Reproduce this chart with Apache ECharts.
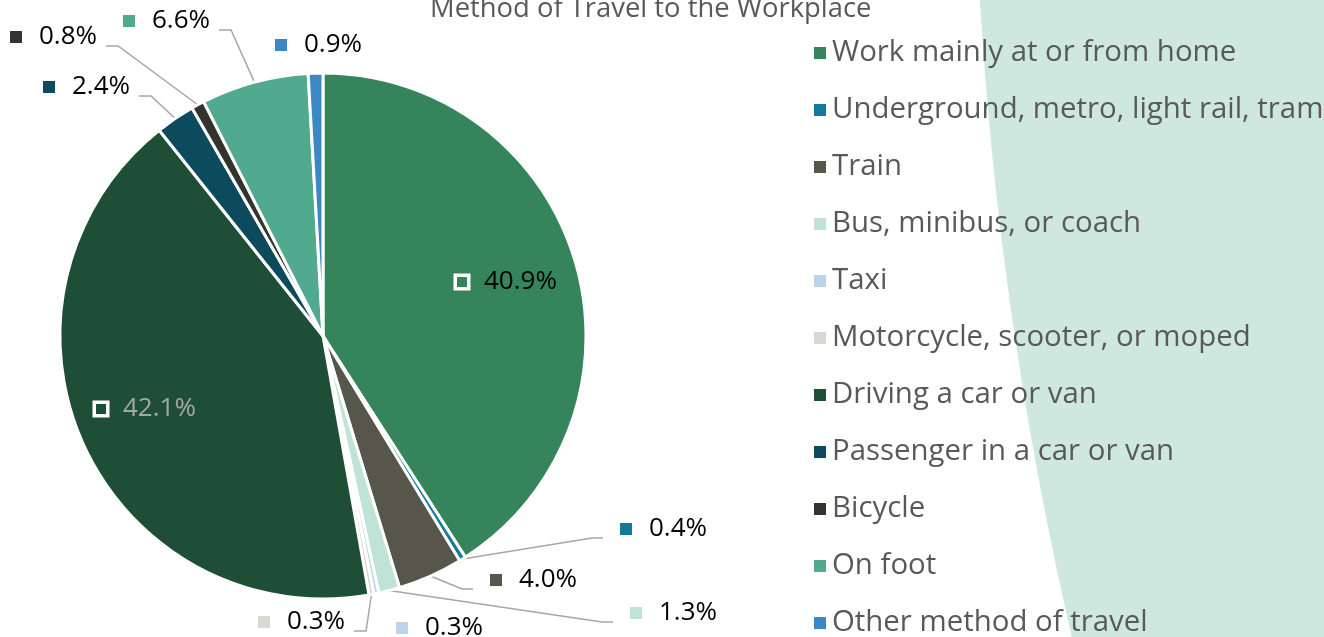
<!DOCTYPE html>
<html>
<head>
<meta charset="utf-8">
<script src="https://cdn.jsdelivr.net/npm/echarts@6/dist/echarts.min.js"></script>
<style>
html,body{margin:0;padding:0;background:#fff;}
#c{width:1324px;height:637px;}
</style>
</head>
<body>
<div id="c"></div>
<script>
// ---- data ----
const titleText = 'Method of Travel to the Workplace';
const categories = [
  'Work mainly at or from home',
  'Underground, metro, light rail, tram',
  'Train',
  'Bus, minibus, or coach',
  'Taxi',
  'Motorcycle, scooter, or moped',
  'Driving a car or van',
  'Passenger in a car or van',
  'Bicycle',
  'On foot',
  'Other method of travel'
];
const values = [40.9, 0.4, 4.0, 1.3, 0.3, 0.3, 42.1, 2.4, 0.8, 6.6, 0.9];

// ---- styles ----
const colors = ['#36845b', '#127a9e', '#56564a', '#c0e3d8', '#bcd4ea', '#d9d9d3',
                '#1f4e37', '#0c4a5e', '#34342e', '#52aa8e', '#3c87c6'];
// label placement: [left x of icon, center y, kind] kind: 'r' line from left, 'l' line to right, 'i' inside, 'n' no line
const labelPos = [
  [457, 282, 'i'], [620, 529, 'r'], [490, 580, 'r'], [630, 613, 'r'], [396, 628, 'n'],
  [258, 622, 'l'], [96, 409, 'i'], [43, 87, 'l'], [10, 37, 'l'], [123, 21, 'l'], [275, 45, 'n']
];
const labelColors = ['#000', '#000', '#000', '#000', '#000', '#000', '#a6a6a6', '#000', '#000', '#000', '#000'];

const rich = {};
colors.forEach((c, i) => {
  rich['s' + i] = {width: 12, height: 12, backgroundColor: c};
  rich['h' + i] = {width: 10, height: 10, backgroundColor: c, borderColor: '#ffffff', borderWidth: 3.5};
  rich['t' + i] = {fontSize: 26, fontFamily: 'Open Sans', color: labelColors[i], padding: [0, 0, 0, 17]};
});

const data = categories.map((n, i) => ({
  name: n,
  value: values[i],
  itemStyle: {color: colors[i]},
  labelLine: {show: labelPos[i][2] === 'r' || labelPos[i][2] === 'l'}
}));

const chart = echarts.init(document.getElementById('c'), null, {renderer: 'canvas'});
chart.setOption({
  backgroundColor: '#ffffff',
  animation: false,
  graphic: [{
    type: 'circle',
    z: -10,
    silent: true,
    shape: {cx: 4820, cy: -229, r: 3847},
    style: {fill: '#cee8df'}
  }],
  title: {
    text: titleText,
    left: 430,
    top: -4,
    padding: 0,
    textStyle: {fontFamily: 'Open Sans', fontSize: 27.4, fontWeight: 'normal', color: '#595959'}
  },
  legend: {
    orient: 'vertical',
    left: 807,
    top: 33,
    height: 620,
    itemWidth: 14,
    itemHeight: 14,
    itemGap: 27,
    icon: 'rect',
    data: categories,
    textStyle: {fontFamily: 'Open Sans', fontSize: 29.4, color: '#595959', lineHeight: 30, padding: [0, 0, 0, 0]}
  },
  series: [{
    type: 'pie',
    center: [323, 336],
    radius: 263,
    startAngle: 90,
    clockwise: true,
    avoidLabelOverlap: false,
    itemStyle: {borderColor: '#fff', borderWidth: 3},
    data: data,
    label: {
      show: true,
      position: 'outside',
      formatter: p => {
        const i = p.dataIndex;
        const icon = labelPos[i][2] === 'i' ? '{h' + i + '|}' : '{s' + i + '|}';
        return icon + '{t' + i + '|' + values[i].toFixed(1) + '%}';
      },
      rich: rich
    },
    labelLine: {show: true, lineStyle: {color: '#a6a6a6', width: 1.5}},
    emphasis: {disabled: true},
    labelLayout: function (p) {
      const i = p.dataIndex;
      const lp = labelPos[i];
      const res = {x: lp[0], y: lp[1], align: 'left', verticalAlign: 'middle', hideOverlap: false, moveOverlap: null};
      if (p.labelLinePoints && (lp[2] === 'r' || lp[2] === 'l')) {
        const start = p.labelLinePoints[0];
        const ly = lp[1] + 9;
        let end, elbow;
        if (lp[2] === 'r') {
          end = [lp[0] - 17, ly];
          elbow = [lp[0] - 28, ly];
        } else {
          const right = lp[0] + p.labelRect.width;
          end = [right + 9, ly];
          elbow = [right + 21, ly];
        }
        res.labelLinePoints = [start, elbow, end];
      }
      return res;
    }
  }]
});
</script>
</body>
</html>
